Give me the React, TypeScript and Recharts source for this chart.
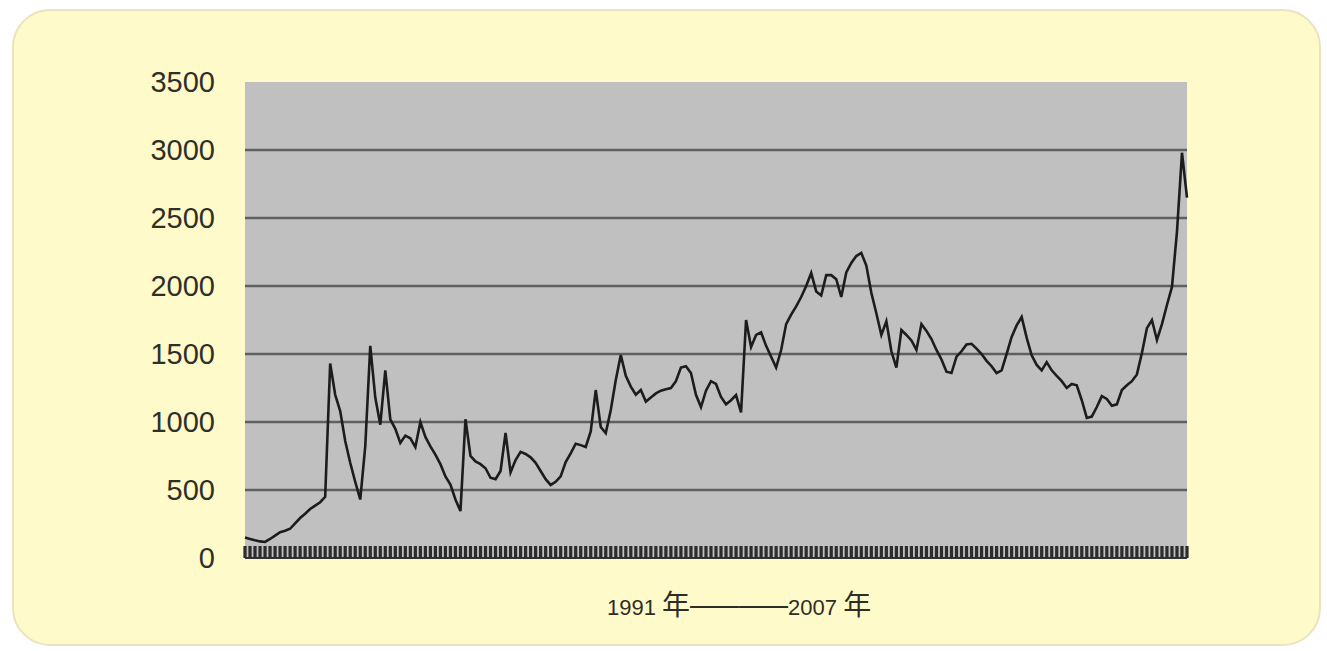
import {
  CartesianGrid,
  Label,
  Line,
  LineChart,
  XAxis,
  YAxis,
} from "recharts";

// index readings of the curve, left to right (1991 → 2007)
const indexValues = [
  150, 140, 130, 122, 118, 140, 165, 190, 200, 215,
  255, 294, 325, 360, 385, 410, 450, 1430, 1200, 1080,
  860, 700, 560, 430, 820, 1560, 1180, 980, 1380, 1020,
  950, 846, 900, 880, 816, 1000, 890, 820, 760, 690,
  600, 540, 430, 345, 1020, 750, 710, 690, 660, 590,
  580, 640, 920, 630, 720, 780, 765, 740, 700, 640,
  580, 537, 560, 600, 706, 770, 840, 830, 816, 930,
  1235, 963, 919, 1088, 1309, 1493, 1340, 1260, 1200, 1235,
  1150, 1180, 1210, 1230, 1240, 1250, 1300, 1400, 1410, 1360,
  1200, 1110, 1230, 1300, 1280, 1184, 1130, 1160, 1198, 1070,
  1750, 1551, 1640, 1660, 1560, 1480, 1400, 1529, 1720, 1790,
  1850, 1919, 2000, 2096, 1960, 1930, 2080, 2080, 2050, 1919,
  2100, 2170, 2220, 2243, 2150, 1950, 1800, 1640, 1740, 1520,
  1400, 1676, 1640, 1600, 1530, 1720, 1670, 1610, 1530, 1460,
  1370, 1360, 1480, 1520, 1570, 1575, 1540, 1500, 1450, 1410,
  1360, 1380, 1500, 1625, 1710, 1772, 1620, 1490, 1420, 1380,
  1440, 1380, 1340, 1300, 1250, 1280, 1270, 1160, 1030, 1040,
  1110, 1190, 1170, 1120, 1130, 1235, 1270, 1300, 1350, 1507,
  1690, 1750, 1603, 1720, 1860, 1993, 2400, 2980, 2650,
];

const yTicks = [0, 500, 1000, 1500, 2000, 2500, 3000, 3500];
const gridValues = [500, 1000, 1500, 2000, 2500, 3000];
const xTitleParts = ["1991 ", "年", "——", "2007 ", "年"];

const data = indexValues.map((v, i) => ({ i, v }));

const latin = "'Liberation Sans', Arial, sans-serif";
const cjk = "'Noto Sans CJK SC', sans-serif";

function XTitle(props: any) {
  const vb = props.viewBox || { x: 245, y: 558, width: 942 };
  const x = vb.x + vb.width / 2 - 109;
  const y = vb.y + 57;
  const [a, b, c, d, e] = xTitleParts;
  return (
    <text x={x} y={y} fill="#2e2e26" textAnchor="start">
      <tspan fontFamily={latin} fontSize={22}>{a}</tspan>
      <tspan fontFamily={cjk} fontSize={28}>{b}</tspan>
      <tspan
        fontFamily={latin}
        fontSize={30}
        textLength={98}
        lengthAdjust="spacingAndGlyphs"
      >
        {c}
      </tspan>
      <tspan fontFamily={latin} fontSize={22}>{d}</tspan>
      <tspan fontFamily={cjk} fontSize={28}>{e}</tspan>
    </text>
  );
}

export default function App() {
  return (
    <div
      style={{
        position: "absolute",
        left: 0,
        top: 0,
        width: 1327,
        height: 651,
        background: "#ffffff",
        overflow: "hidden",
      }}
    >
      <div
        style={{
          position: "absolute",
          left: 12,
          top: 9,
          width: 1305,
          height: 633,
          background: "#fffaca",
          border: "2px solid #ebe3bd",
          borderRadius: 38,
        }}
      />
      <div style={{ position: "absolute", left: 0, top: 0 }}>
        <LineChart
          width={1327}
          height={651}
          data={data}
          margin={{ top: 82, right: 140, bottom: 0, left: 0 }}
        >
          <CartesianGrid
            vertical={false}
            horizontalValues={gridValues}
            stroke="#5f5f5f"
            strokeWidth={2.5}
            fill="#c0c0c0"
            fillOpacity={1}
          />
          <XAxis
            dataKey="i"
            height={93}
            interval={0}
            tickFormatter={() => ""}
            tickSize={-12}
            tickLine={{ stroke: "#2c2c2c", strokeWidth: 3.2 }}
            axisLine={{ stroke: "#333333", strokeWidth: 2 }}
          >
            <Label content={XTitle} />
          </XAxis>
          <YAxis
            domain={[0, 3500]}
            ticks={yTicks}
            width={245}
            tickSize={0}
            tickMargin={30}
            axisLine={false}
            tick={{
              fontSize: 29,
              fill: "#2f2f27",
              fontFamily: latin,
            }}
          />
          <YAxis
            yAxisId="r"
            orientation="right"
            domain={[0, 3500]}
            width={0}
            tick={false}
            tickLine={false}
            axisLine={{ stroke: "#5a5a5a", strokeWidth: 3 }}
          />
          <Line
            type="linear"
            dataKey="v"
            stroke="#1c1c1c"
            strokeWidth={2.6}
            dot={false}
            isAnimationActive={false}
          />
        </LineChart>
      </div>
    </div>
  );
}
